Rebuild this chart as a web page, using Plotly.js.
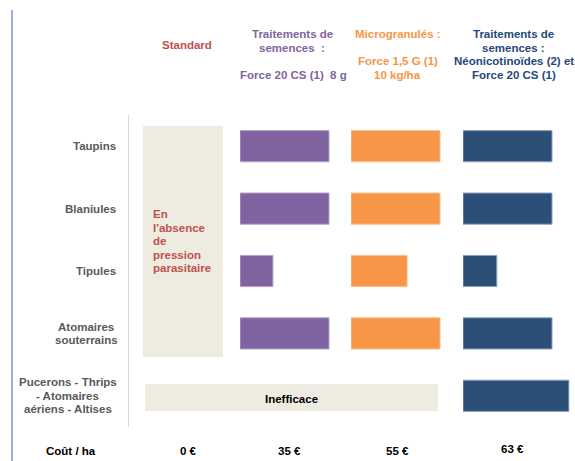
<!DOCTYPE html>
<html>
<head>
<meta charset="utf-8">
<script src="https://cdn.plot.ly/plotly-3.0.1.min.js"></script>
<style>html,body{margin:0;padding:0;background:#fff;}#chart{width:575px;height:461px;}</style>
</head>
<body>
<div id="chart"></div>
<script>
// ---- data ----
var categories = ["Taupins", "Blaniules", "Tipules", "Atomaires souterrains", "Pucerons - Thrips - Atomaires aériens - Altises"];
var categoryLabels = [["Taupins"], ["Blaniules"], ["Tipules"], ["Atomaires", "souterrains"], ["Pucerons - Thrips", "- Atomaires", "aériens - Altises"]];
var seedTreatment = [100, 100, 37, 100, null];      // Traitements de semences : Force 20 CS (1) 8 g
var microgranules = [100, 100, 63, 100, null];      // Microgranulés : Force 1,5 G (1) 10 kg/ha
var neonicPlusForce = [100, 100, 38, 100, 119];     // Néonicotinoïdes (2) et Force 20 CS (1)
var costLabel = "Coût / ha";
var costs = [0, 35, 55, 63];
var standardNote = ["En", "l'absence", "de", "pression", "parasitaire"];
var ineffText = "Inefficace";

// ---- helpers ----
var W = 575, H = 461, LS = 13.6;
function px(x) { return x / W; }
function py(y) { return 1 - y / H; }
var FONT = "Liberation Sans, Arial, sans-serif";
var purple = "#8064A2", orange = "#F79646", navy = "#2C4F77", red = "#C0504D", beige = "#EEECE1";
var headerNavy = "#1F497D";

function barTrace(vals, color, line, xa) {
  return {
    type: "bar", orientation: "h", y: categories, x: vals, width: 0.5,
    xaxis: xa, yaxis: "y",
    marker: {color: color, line: {color: line, width: 1}},
    hoverinfo: "skip", showlegend: false
  };
}
var data = [
  barTrace(seedTreatment, purple, "#B3A2C7", "x"),
  barTrace(microgranules, orange, "#FAC090", "x2"),
  barTrace(neonicPlusForce, navy, "#8EA3BD", "x3")
];

var colW = 89 * 1.2;
function hiddenX(x0) {
  return {domain: [px(x0), px(x0 + colW)], range: [0, 120], visible: false, anchor: "y", fixedrange: true};
}

var annotations = [];
function ann(text, x, y, color, opts) {
  var a = {text: text, x: px(x), y: py(y), xref: "paper", yref: "paper", showarrow: false,
           xanchor: "center", yanchor: "middle", align: "center",
           font: {family: FONT, size: 11.5, color: color, weight: "bold"}};
  for (var k in opts) a[k] = opts[k];
  annotations.push(a);
}
// multi-line block: one annotation per line, first line centred at y
function block(lines, x, y, color, opts) {
  lines.forEach(function (t, i) { ann(t, x, y + i * LS, color, opts); });
}

ann("Standard", 187, 45, red);
block(["Traitements de", "semences \u00a0:"], 292, 34, purple);
ann("Force 20 CS (1) \u00a08 g", 293.5, 75, purple);
ann("Microgranulés :", 397.5, 34, orange);
block(["Force 1,5 G (1)", "10 kg/ha"], 397.5, 61, orange);
block(["Traitements de", "semences :", "Néonicotinoïdes (2) et", "Force 20 CS (1)"], 513.5, 34, headerNavy);
block(standardNote, 151, 214, red, {xanchor: "left", align: "left"});
ann(costLabel, 71, 451, "#000000");
var costX = [188, 289, 397.5, 512];
var costY = [451, 451, 451, 449];
costs.forEach(function (c, i) { ann(c + " €", costX[i], costY[i], "#000000"); });

// row labels: single lines right-aligned at x=118, multi-line blocks centred
var labelCentre = [null, null, null, 86, 67.5];
categories.forEach(function (c, i) {
  var lines = categoryLabels[i];
  lines.forEach(function (t, j) {
    var multi = lines.length > 1;
    annotations.push({text: t, x: px(multi ? labelCentre[i] : 118), xref: "paper", y: c, yref: "y",
      yshift: -(j - (lines.length - 1) / 2) * LS,
      showarrow: false, xanchor: multi ? "center" : "right", yanchor: "middle", align: "center",
      font: {family: FONT, size: 11.5, color: "#595959", weight: "bold"}});
  });
});

var layout = {
  width: W, height: H,
  margin: {l: 0, r: 0, t: 0, b: 0},
  paper_bgcolor: "#ffffff", plot_bgcolor: "rgba(0,0,0,0)",
  showlegend: false,
  xaxis: hiddenX(240),
  xaxis2: hiddenX(351),
  xaxis3: hiddenX(463),
  yaxis: {type: "category", categoryarray: categories, range: [4.5, -0.5],
          domain: [py(427), py(115)], anchor: "free", position: px(128),
          showline: true, linecolor: "#D9D9D9", linewidth: 1,
          showticklabels: false, showgrid: false, zeroline: false, ticks: "", fixedrange: true},
  shapes: [
    {type: "rect", xref: "paper", yref: "paper", x0: px(143), x1: px(223), y0: py(357), y1: py(126),
     fillcolor: beige, line: {width: 0}, layer: "below"},
    {type: "rect", xref: "paper", yref: "paper", x0: px(145), x1: px(438), y0: py(411), y1: py(384),
     fillcolor: beige, line: {width: 0}, layer: "below",
     label: {text: ineffText, font: {family: FONT, size: 11.5, color: "#000000", weight: "bold"},
             textposition: "middle center"}},
    {type: "line", xref: "paper", yref: "paper", x0: px(12), x1: px(12), y0: 0, y1: py(10),
     line: {color: "#6C9BD6", width: 1.5}}
  ],
  annotations: annotations
};

Plotly.newPlot("chart", data, layout, {displayModeBar: false, staticPlot: true});
</script>
</body>
</html>
